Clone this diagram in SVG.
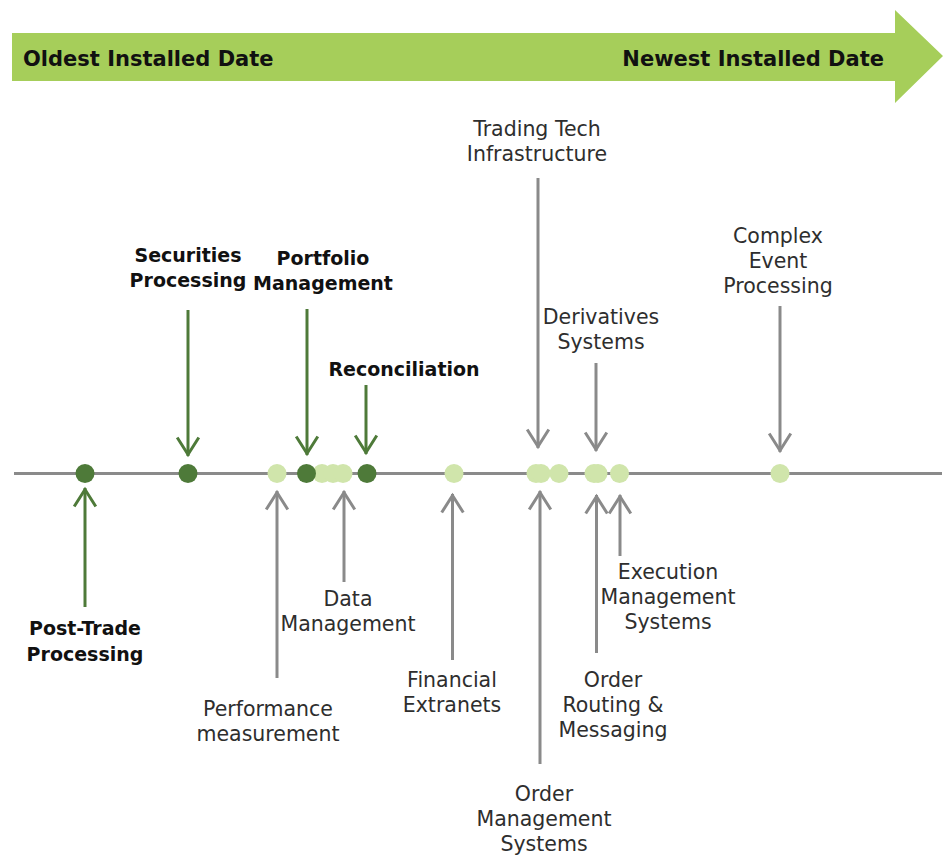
<svg xmlns="http://www.w3.org/2000/svg" width="948" height="855" viewBox="0 0 948 855">
  <style>
    .bold { font-family: "DejaVu Sans", "Liberation Sans", sans-serif; font-weight: bold; font-size: 19px; fill: #111; text-anchor: middle; }
    .reg { font-family: "DejaVu Sans", "Liberation Sans", sans-serif; font-size: 20.5px; fill: #2e2e2e; text-anchor: middle; }
    .banner { font-family: "DejaVu Sans", "Liberation Sans", sans-serif; font-weight: bold; font-size: 21px; fill: #111; }
    .axis { stroke: #8a8a8a; stroke-width: 3; fill: none; }
    .g-conn { stroke: #4e7a39; stroke-width: 3; fill: none; }
    .n-conn { stroke: #8a8a8a; stroke-width: 3; fill: none; }
    .dot-dark { fill: #4e7a39; }
    .dot-light { fill: #d0e5ab; }
  </style>
  <defs>
    <marker id="head-green" markerUnits="userSpaceOnUse" orient="auto" refX="0" refY="0" markerWidth="30" markerHeight="30" viewBox="-25 -15 30 30" overflow="visible">
      <path d="M-18.5,-10.8 L-1.5,0 L-18.5,10.8" fill="none" stroke="#4e7a39" stroke-width="3"/>
    </marker>
    <marker id="head-gray" markerUnits="userSpaceOnUse" orient="auto" refX="0" refY="0" markerWidth="30" markerHeight="30" viewBox="-25 -15 30 30" overflow="visible">
      <path d="M-18.5,-10.8 L-1.5,0 L-18.5,10.8" fill="none" stroke="#8a8a8a" stroke-width="3"/>
    </marker>
  </defs>

  <!-- timeline banner -->
  <g id="banner">
    <polygon points="12,33 895,33 895,10 943,56 895,103 895,81 12,81" fill="#a6ce5a"/>
    <text class="banner" x="23" y="66">Oldest Installed Date</text>
    <text class="banner" x="884" y="66" text-anchor="end">Newest Installed Date</text>
  </g>

  <!-- axis -->
  <line class="axis" x1="14" y1="473.5" x2="942" y2="473.5"/>

  <!-- connectors -->
  <g id="connectors">
    <line class="g-conn" x1="85" y1="607" x2="85" y2="488" marker-end="url(#head-green)"/>
    <line class="g-conn" x1="188" y1="310" x2="188" y2="456" marker-end="url(#head-green)"/>
    <line class="g-conn" x1="307" y1="309" x2="307" y2="455" marker-end="url(#head-green)"/>
    <line class="g-conn" x1="366" y1="385" x2="366" y2="454" marker-end="url(#head-green)"/>
    <line class="n-conn" x1="277" y1="678" x2="277" y2="491" marker-end="url(#head-gray)"/>
    <line class="n-conn" x1="344" y1="582" x2="344" y2="491" marker-end="url(#head-gray)"/>
    <line class="n-conn" x1="452.5" y1="660" x2="452.5" y2="494" marker-end="url(#head-gray)"/>
    <line class="n-conn" x1="538" y1="178" x2="538" y2="448" marker-end="url(#head-gray)"/>
    <line class="n-conn" x1="540" y1="764" x2="540" y2="491" marker-end="url(#head-gray)"/>
    <line class="n-conn" x1="596" y1="363" x2="596" y2="451" marker-end="url(#head-gray)"/>
    <line class="n-conn" x1="596.5" y1="653" x2="596.5" y2="495" marker-end="url(#head-gray)"/>
    <line class="n-conn" x1="620" y1="556" x2="620" y2="495" marker-end="url(#head-gray)"/>
    <line class="n-conn" x1="780" y1="306" x2="780" y2="452" marker-end="url(#head-gray)"/>
  </g>

  <!-- dots on the axis -->
  <g id="dots">
    <circle class="dot-light" cx="277" cy="473.5" r="9.5"/>
    <circle class="dot-light" cx="322" cy="473.5" r="9.5"/>
    <circle class="dot-light" cx="333" cy="473.5" r="9.5"/>
    <circle class="dot-light" cx="343" cy="473.5" r="9.5"/>
    <circle class="dot-light" cx="454" cy="473.5" r="9.5"/>
    <circle class="dot-light" cx="536" cy="473.5" r="9.5"/>
    <circle class="dot-light" cx="541" cy="473.5" r="9.5"/>
    <circle class="dot-light" cx="559" cy="473.5" r="9.5"/>
    <circle class="dot-light" cx="594" cy="473.5" r="9.5"/>
    <circle class="dot-light" cx="598" cy="473.5" r="9.5"/>
    <circle class="dot-light" cx="619.5" cy="473.5" r="9.5"/>
    <circle class="dot-light" cx="780" cy="473.5" r="9.5"/>
    <circle class="dot-dark" cx="85" cy="473.5" r="9.5"/>
    <circle class="dot-dark" cx="188" cy="473.5" r="9.5"/>
    <circle class="dot-dark" cx="306.5" cy="473.5" r="9.5"/>
    <circle class="dot-dark" cx="367" cy="473.5" r="9.5"/>
  </g>

  <!-- labels -->
  <g id="post-trade-processing">
    <text class="bold" x="85" y="635">Post-Trade</text>
    <text class="bold" x="85" y="661">Processing</text>
  </g>
  <g id="securities-processing">
    <text class="bold" x="188" y="262">Securities</text>
    <text class="bold" x="188" y="287">Processing</text>
  </g>
  <g id="portfolio-management">
    <text class="bold" x="323" y="265">Portfolio</text>
    <text class="bold" x="323" y="290">Management</text>
  </g>
  <g id="reconciliation">
    <text class="bold" x="404" y="376">Reconciliation</text>
  </g>
  <g id="performance-measurement">
    <text class="reg" x="268" y="716">Performance</text>
    <text class="reg" x="268" y="741">measurement</text>
  </g>
  <g id="data-management">
    <text class="reg" x="348" y="606">Data</text>
    <text class="reg" x="348" y="631">Management</text>
  </g>
  <g id="financial-extranets">
    <text class="reg" x="452" y="687">Financial</text>
    <text class="reg" x="452" y="712">Extranets</text>
  </g>
  <g id="trading-tech-infrastructure">
    <text class="reg" x="537" y="136">Trading Tech</text>
    <text class="reg" x="537" y="161">Infrastructure</text>
  </g>
  <g id="order-management-systems">
    <text class="reg" x="544" y="801">Order</text>
    <text class="reg" x="544" y="826">Management</text>
    <text class="reg" x="544" y="851">Systems</text>
  </g>
  <g id="derivatives-systems">
    <text class="reg" x="601" y="324">Derivatives</text>
    <text class="reg" x="601" y="349">Systems</text>
  </g>
  <g id="order-routing-messaging">
    <text class="reg" x="613" y="687">Order</text>
    <text class="reg" x="613" y="712">Routing &amp;</text>
    <text class="reg" x="613" y="737">Messaging</text>
  </g>
  <g id="execution-management-systems">
    <text class="reg" x="668" y="579">Execution</text>
    <text class="reg" x="668" y="604">Management</text>
    <text class="reg" x="668" y="629">Systems</text>
  </g>
  <g id="complex-event-processing">
    <text class="reg" x="778" y="243">Complex</text>
    <text class="reg" x="778" y="268">Event</text>
    <text class="reg" x="778" y="293">Processing</text>
  </g>
</svg>
